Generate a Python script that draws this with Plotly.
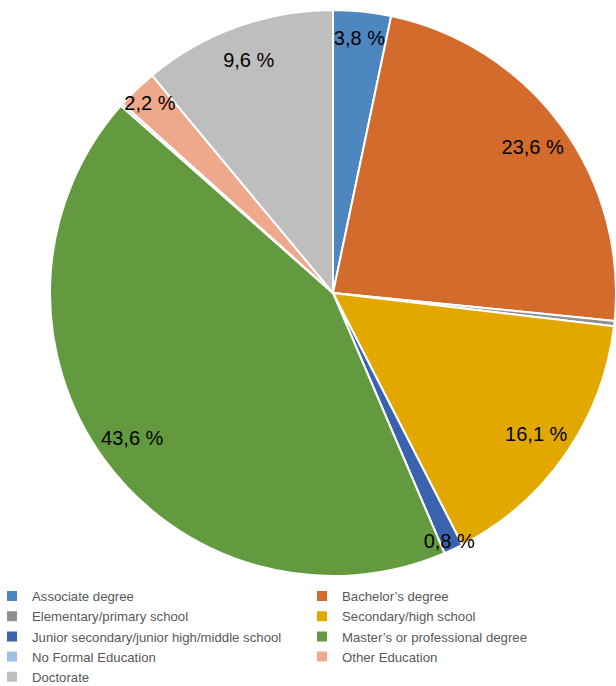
import plotly.graph_objects as go

categories = [
    "Associate degree",
    "Bachelor’s degree",
    "Elementary/primary school",
    "Secondary/high school",
    "Junior secondary/junior high/middle school",
    "Master’s or professional degree",
    "No Formal Education",
    "Other Education",
    "Doctorate",
]
# slice shares (percent)
shares = [3.3, 23.3, 0.3, 15.6, 1.1, 43.0, 0.15, 2.3, 11.05]
# data labels as printed in the picture
label_text = ["3,8 %", "23,6 %", "", "16,1 %", "0,8 %", "43,6 %", "", "2,2 %", "9,6 %"]
colors = ["#4E86C0", "#D26B2C", "#8F8F8F", "#E2A800", "#3A63AE",
          "#639A40", "#9DC0E4", "#EFA88C", "#BEBEBE"]

W, H = 616, 686
legend_top = 581                      # px from top where the legend starts
plot_h = legend_top                    # plot area = everything above the legend
cx, cy, r = 333, 293, 283
domain = dict(x=[(cx - r) / W, (cx + r) / W],
              y=[1 - (cy + r) / plot_h, 1 - (cy - r) / plot_h])

# filled slices
fig = go.Figure(go.Pie(
    labels=categories,
    values=shares,
    textinfo="none",
    sort=False,
    direction="clockwise",
    rotation=0,
    marker=dict(colors=colors, line=dict(color="white", width=2)),
    hoverinfo="label+percent",
    domain=domain,
))

# transparent ring carrying the data labels near the outer edge
fig.add_trace(go.Pie(
    labels=categories,
    values=shares,
    text=label_text,
    textinfo="text",
    textposition="inside",
    insidetextorientation="horizontal",
    hole=0.75,
    sort=False,
    direction="clockwise",
    rotation=0,
    marker=dict(colors=["rgba(0,0,0,0)"] * len(categories), line=dict(width=0)),
    textfont=dict(family="Liberation Sans, Arial", size=20, color="#000000"),
    hoverinfo="skip",
    showlegend=False,
    domain=domain,
))

fig.update_layout(
    width=W, height=H,
    margin=dict(l=0, r=0, t=0, b=H - plot_h, autoexpand=False),
    paper_bgcolor="white",
    plot_bgcolor="white",
    uniformtext=dict(minsize=20, mode="show"),
    showlegend=True,
    legend=dict(
        orientation="h",
        x=-8 / W, xanchor="left",
        y=0, yanchor="top",
        entrywidth=265, entrywidthmode="pixels",
        font=dict(family="Liberation Sans, Arial", size=13.2, color="#595959"),
        traceorder="normal",
        bgcolor="rgba(0,0,0,0)",
    ),
)

fig.write_html(
    "out.html",
    config={"displayModeBar": False},
    post_script="document.body.style.margin='0';document.body.style.overflow='hidden';",
)
